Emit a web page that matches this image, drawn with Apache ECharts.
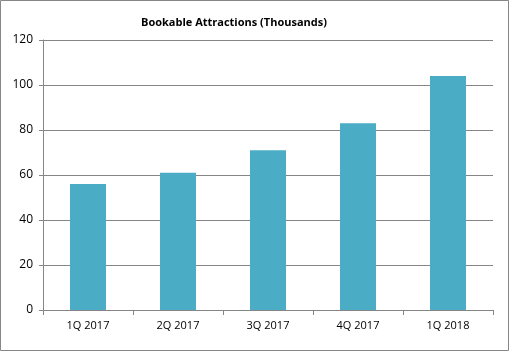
<!DOCTYPE html>
<html>
<head>
<meta charset="utf-8">
<script src="https://cdn.jsdelivr.net/npm/echarts@6/dist/echarts.min.js"></script>
<style>
  html, body { margin: 0; padding: 0; background: #fff; }
  #main { width: 509px; height: 351px; }
</style>
</head>
<body>
<div id="main"></div>
<script>
var quarters = ['1Q 2017', '2Q 2017', '3Q 2017', '4Q 2017', '1Q 2018'];
var attractions = [56, 61, 71, 83, 104];

var myChart = echarts.init(document.getElementById('main'));

option = {
    animation: false,
    textStyle: { fontFamily: 'Open Sans' },
    graphic: [{
        type: 'rect',
        shape: { x: 0.5, y: 0.5, width: 508, height: 350 },
        style: { fill: 'none', stroke: '#868686', lineWidth: 1 },
        silent: true
    }],
    title: {
        text: 'Bookable Attractions (Thousands)',
        left: 136,
        top: 12,
        textStyle: { fontSize: 11, fontWeight: 'bold', color: '#000', fontFamily: 'Open Sans' }
    },
    grid: { left: 43, right: 16, top: 40, bottom: 41 },
    xAxis: {
        type: 'category',
        data: quarters,
        axisLine: { lineStyle: { color: '#868686' } },
        axisTick: { show: true, length: 5, alignWithLabel: false, lineStyle: { color: '#868686' } },
        axisLabel: { color: '#000', fontSize: 11, margin: 10 }
    },
    yAxis: {
        type: 'value',
        min: 0,
        max: 120,
        interval: 20,
        axisLine: { show: true, lineStyle: { color: '#868686' } },
        axisTick: { show: true, length: 4, lineStyle: { color: '#868686' } },
        axisLabel: { color: '#000', fontSize: 12, margin: 10 },
        splitLine: { lineStyle: { color: '#868686' } }
    },
    series: [{
        name: 'Bookable Attractions',
        type: 'bar',
        data: attractions,
        barWidth: 36,
        itemStyle: { color: '#4BACC6' }
    }]
};

myChart.setOption(option);
</script>
</body>
</html>
